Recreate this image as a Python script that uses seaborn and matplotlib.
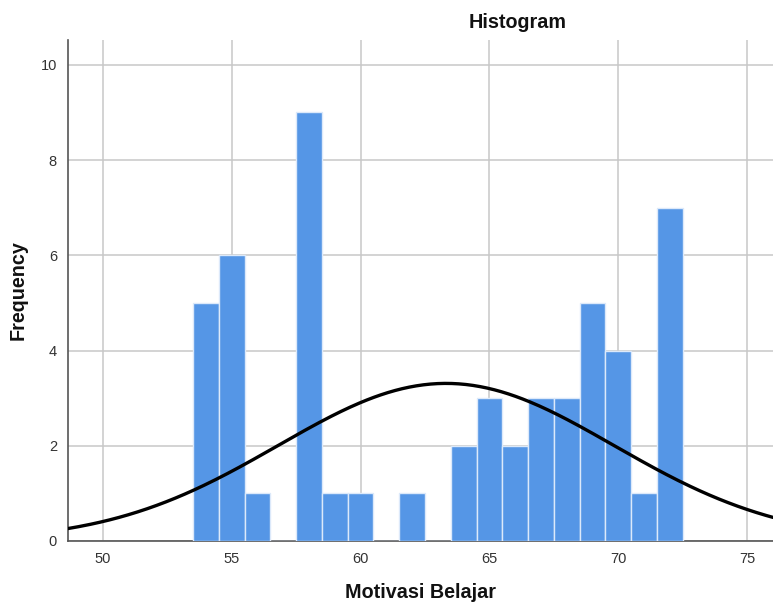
import numpy as np
import pandas as pd
import seaborn as sns
import matplotlib.pyplot as plt

# scores and how many students got each score
scores = [54, 55, 56, 58, 59, 60, 62, 64, 65, 66, 67, 68, 69, 70, 71, 72]
counts = [5, 6, 1, 9, 1, 1, 1, 2, 3, 2, 3, 3, 5, 4, 1, 7]
x_ticks = [50, 55, 60, 65, 70, 75]
y_ticks = [0, 2, 4, 6, 8, 10]

df = pd.DataFrame({'Motivasi Belajar': np.repeat(scores, counts)})

sns.set_style('white')
plt.rcParams['font.family'] = ['Liberation Sans', 'DejaVu Sans']

fig = plt.figure(figsize=(7.73, 6.05), dpi=100)
ax = fig.add_axes([0.088, 0.1058, 0.912, 0.828])

sns.histplot(data=df, x='Motivasi Belajar', discrete=True,
             color='#5596e6', alpha=1, edgecolor='#dce9fa',
             linewidth=1, ax=ax, zorder=3)

# normal curve from the data
vals = df['Motivasi Belajar']
mu, sd = vals.mean(), vals.std()
xs = np.linspace(48.6, 76, 300)
ys = len(vals) / (sd * np.sqrt(2 * np.pi)) * np.exp(-0.5 * ((xs - mu) / sd) ** 2)
sns.lineplot(x=xs, y=ys, color='black', linewidth=2.4, ax=ax, zorder=4)

ax.set_xlim(48.65, 76)
ax.set_ylim(0, 10.52)
ax.set_xticks(x_ticks)
ax.set_yticks(y_ticks)
ax.grid(True, color='#c8c8c8', linewidth=1.1, zorder=0)
ax.set_axisbelow(True)
ax.tick_params(length=0, labelsize=10.5, labelcolor='#333333', pad=8)
for s in ['top', 'right']:
    ax.spines[s].set_visible(False)
for s in ['left', 'bottom']:
    ax.spines[s].set_color('#555555')
    ax.spines[s].set_linewidth(1.2)

ax.set_xlabel('Motivasi Belajar', fontsize=14.2, fontweight='bold', labelpad=12, color='#111111')
ax.set_ylabel('Frequency', fontsize=14.2, fontweight='bold', labelpad=9, color='#111111')
fig.text(0.67, 0.962, 'Histogram', fontsize=14.2, fontweight='bold', ha='center', va='center', color='#111111')

plt.savefig('out.png', dpi=100)
plt.close()
